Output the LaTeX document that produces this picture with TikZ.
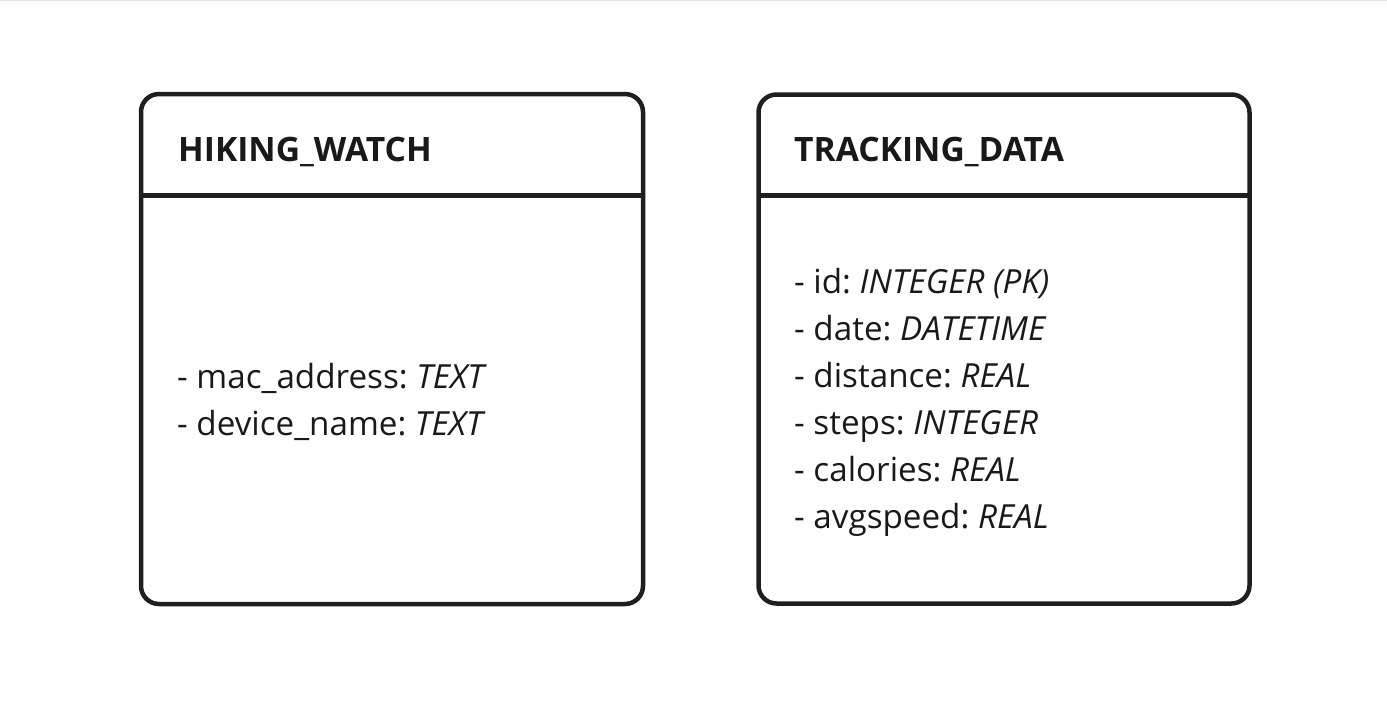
\documentclass[tikz,border=0pt]{standalone}
\usepackage{fontspec}
\setmainfont{Open Sans}
\frenchspacing
\begin{document}
\begin{tikzpicture}[x=1pt,y=-1pt,
  ink/.style={draw=black!88, line width=4.5pt},
  entity/.style={ink, rounded corners=18pt, inner sep=0pt, fill=white},
  title/.style={anchor=base west, inner sep=0pt, text=black!90,
    font=\fontsize{33.6}{40}\selectfont\bfseries},
  attr/.style={anchor=base west, inner sep=0pt, text=black!90,
    font=\fontsize{33.2}{40}\selectfont}]
  % canvas
  \fill[white] (0,0) rectangle (1387,720);
  \useasboundingbox (0,0) rectangle (1387,720);
  \draw[black!12, line width=1.5pt] (0,0.5) -- (1387,0.5);

  % HIKING_WATCH entity
  \node[entity, minimum width=502pt, minimum height=510pt] (hw) at (392,349) {};
  \coordinate (hwL) at (141.5,195.5);
  \coordinate (hwR) at (642.5,195.5);
  \draw[ink] (hwL) -- (hwR);
  \node[title] (hwT) at (178,161) {HIKING\_WATCH};
  \node[attr] (hw1) at (177,388) {- mac\_address: \textit{TEXT}};
  \node[attr] (hw2) at (177,435) {- device\_name: \textit{TEXT}};

  % TRACKING_DATA entity
  \node[entity, minimum width=491pt, minimum height=509pt] (td) at (1004,349) {};
  \coordinate (tdL) at (758.5,195.5);
  \coordinate (tdR) at (1249.5,195.5);
  \draw[ink] (tdL) -- (tdR);
  \node[title] (tdT) at (794,161) {TRACKING\_DATA};
  \node[attr] (td1) at (794,293) {- id: \textit{INTEGER (PK)}};
  \node[attr] (td2) at (794,340) {- date: \textit{DATETIME}};
  \node[attr] (td3) at (794,387) {- distance: \textit{REAL}};
  \node[attr] (td4) at (794,434) {- steps: \textit{INTEGER}};
  \node[attr] (td5) at (794,481) {- calories: \textit{REAL}};
  \node[attr] (td6) at (794,528) {- avgspeed: \textit{REAL}};
\end{tikzpicture}
\end{document}
